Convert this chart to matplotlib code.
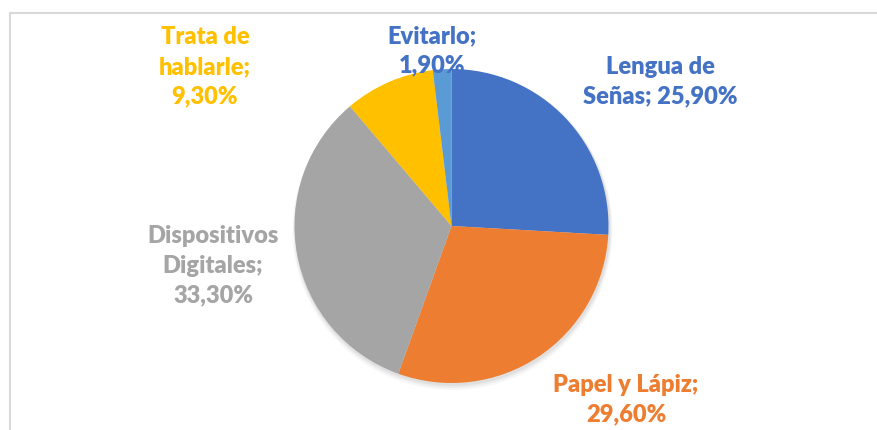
import matplotlib
matplotlib.use("Agg")
import matplotlib.pyplot as plt
from matplotlib.lines import Line2D

# data, clockwise from 12 o'clock
categories = ["Lengua de Señas", "Papel y Lápiz", "Dispositivos Digitales", "Trata de hablarle", "Evitarlo"]
values = [25.9, 29.6, 33.3, 9.3, 1.9]
label_texts = [
    "Lengua de\nSeñas; 25,90%",
    "Papel y Lápiz;\n29,60%",
    "Dispositivos\nDigitales;\n33,30%",
    "Trata de\nhablarle;\n9,30%",
    "Evitarlo;\n1,90%",
]

colors = ["#4472C4", "#ED7D31", "#A5A5A5", "#FFC000", "#5B9BD5"]
label_colors = ["#4472C4", "#ED7D31", "#A5A5A5", "#FFC000", "#4472C4"]
# label centres in pixels (x, y from top)
label_pos = [(660, 82), (626, 400), (213, 266), (205, 67), (432, 51)]

W, H = 878, 430
fig = plt.figure(figsize=(W / 100, H / 100), dpi=100)
ax = fig.add_axes([0, 0, 1, 1])

# chart frame (only top and left are visible in the crop)
ax.add_line(Line2D([10, W], [H - 13, H - 13], color="#D9D9D9", lw=1.5))
ax.add_line(Line2D([10, 10], [H - 13, 0], color="#D9D9D9", lw=1.5))

cx, cy, r = 451.5, H - 226, 157
# soft shadow
for i, a in enumerate([0.05, 0.04, 0.03]):
    circ = plt.Circle((cx + 1, cy - 2 - i), r + 1 + i, color="black", alpha=a, lw=0)
    ax.add_patch(circ)

ax.pie(values, colors=colors, startangle=90, counterclock=False,
       center=(cx, cy), radius=r, frame=True,
       wedgeprops=dict(linewidth=0))
ax.set_xlim(0, W)
ax.set_ylim(0, H)
ax.set_aspect("equal")
ax.axis("off")

for txt, col, (x, y) in zip(label_texts, label_colors, label_pos):
    ax.text(x, H - y, txt, color=col, ha="center", va="center",
            fontsize=17, fontweight=800, family="Lato", linespacing=1.42)

fig.savefig("out.png", dpi=100)
